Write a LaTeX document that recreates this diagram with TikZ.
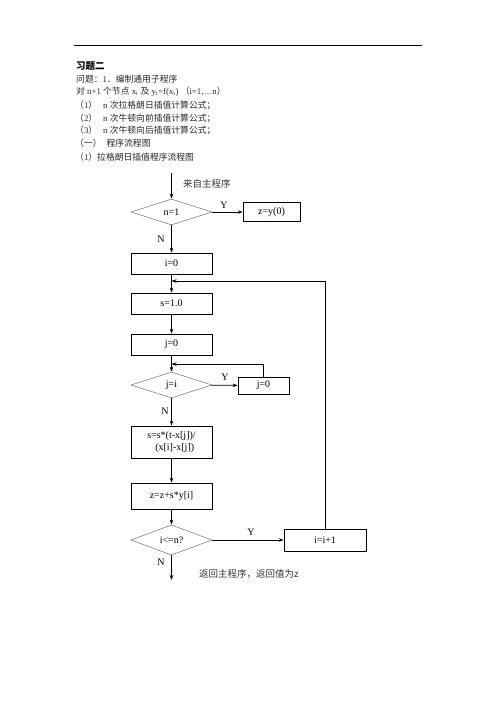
\documentclass[tikz,border=0pt]{standalone}
\usepackage{fontspec}
\setmainfont{Liberation Serif}
\newfontfamily\cjk{Noto Sans CJK SC}
\usetikzlibrary{arrows.meta,positioning,shapes.geometric}

\tikzset{
  procbox/.style={draw, line width=0.7pt, minimum width=81pt, minimum height=21pt, inner sep=1pt, font=\fontsize{10}{11.5}\selectfont},
  testbox/.style={draw=gray, line width=0.6pt, diamond, minimum width=81pt, minimum height=26pt, inner sep=0pt, font=\fontsize{10}{11}\selectfont},
  flow/.style={line width=0.7pt, -{Stealth[length=5pt,width=3.5pt]}},
  yn/.style={font=\fontsize{10}{11}\selectfont},
  headline/.style={anchor=west, inner sep=0pt, font=\fontsize{8.8}{10}\selectfont, text=black!85},
  note/.style={anchor=west, inner sep=0pt, font=\cjk\fontsize{9.5}{11}\selectfont, text=black!80}
}

\begin{document}
\begin{tikzpicture}[x=1pt,y=-1pt]
            \useasboundingbox (0,0) rectangle (496,702);

            % page rule and heading
            \draw[line width=0.8pt] (74,45) -- (422,45);
            \node[headline, text=black, font=\cjk\bfseries\fontsize{9.5}{11}\selectfont] (title) at (76,66) {习题二};
            \node[headline] (q1) at (76,79) {{\cjk 问题：}1{\cjk ．编制通用子程序}};
            \node[headline] (q2) at (76,92) {{\cjk 对} n+1 {\cjk 个节点} x\textsubscript{i} {\cjk 及} y\textsubscript{i}=f(x\textsubscript{i}) {\cjk （}i=1,…n{\cjk ）}};
            \node[headline] (q3) at (75,105) {{\cjk （}1{\cjk ）}\hspace{6pt}n {\cjk 次拉格朗日插值计算公式；}};
            \node[headline] (q4) at (75,118) {{\cjk （}2{\cjk ）}\hspace{6pt}n {\cjk 次牛顿向前插值计算公式；}};
            \node[headline] (q5) at (75,130.5) {{\cjk （}3{\cjk ）}\hspace{6pt}n {\cjk 次牛顿向后插值计算公式；}};
            \node[headline] (q6) at (75,143.5) {{\cjk （一）\hspace{5pt}程序流程图}};
            \node[headline] (q7) at (75,157) {{\cjk （}1{\cjk ）拉格朗日插值程序流程图}};

            % flow chart
            \coordinate (enter) at (171.5,173);
            \node[testbox] (chkn) at (171.5,212) {n=1};
            \node[procbox, minimum width=57pt, minimum height=19pt] (zy) at (271.5,212) {z=y(0)};
            \node[procbox] (iinit) at (171.5,263.5) {i=0};
            \node[procbox] (sinit) at (171.5,303.5) {s=1.0};
            \node[procbox] (jinit) at (171.5,344.5) {j=0};
            \node[testbox] (chkj) at (171.5,385) {j=i};
            \node[procbox, minimum width=51pt, minimum height=17pt] (jskip) at (263.5,385.5) {j=0};
            \node[procbox, minimum height=32pt, align=left] (sprod) at (171.5,442) {s=s*(t-x[j])/\\\hspace{8pt}(x[i]-x[j])};
            \node[procbox, minimum height=26pt] (zsum) at (171.5,496) {z=z+s*y[i]};
            \node[testbox] (chki) at (171.5,540) {i<=n?};
            \node[procbox, minimum width=82pt, minimum height=22pt] (iinc) at (325,540) {i=i+1};
            \coordinate (leave) at (171.5,580);
            \coordinate (outer) at (171.5,281);
            \coordinate (inner) at (171.5,364);

            \draw[flow] (enter) -- (chkn);
            \draw[flow] (chkn) -- (zy);
            \draw[flow] (chkn) -- (iinit);
            \draw[flow] (iinit) -- (sinit);
            \draw[flow] (sinit) -- (jinit);
            \draw[flow] (jinit) -- (chkj);
            \draw[flow] (chkj) -- (jskip);
            \draw[flow] (jskip.north) |- (inner);
            \draw[flow] (chkj) -- (sprod);
            \draw[flow] (sprod) -- (zsum);
            \draw[flow] (zsum) -- (chki);
            \draw[flow] (chki) -- (iinc);
            \draw[flow] (iinc.north) |- (outer);
            \draw[flow] (chki) -- (leave);

            % labels
            \node[note] (from) at (183,184) {来自主程序};
            \node[note] (back) at (199,574) {返回主程序，返回值为z};
            \node[yn] (y1) at (224,205) {Y};
            \node[yn] (n1) at (161,239) {N};
            \node[yn] (y2) at (225,377) {Y};
            \node[yn] (n2) at (165,411) {N};
            \node[yn] (y3) at (251,532) {Y};
            \node[yn] (n3) at (161,562) {N};
            \end{tikzpicture}
\end{document}
